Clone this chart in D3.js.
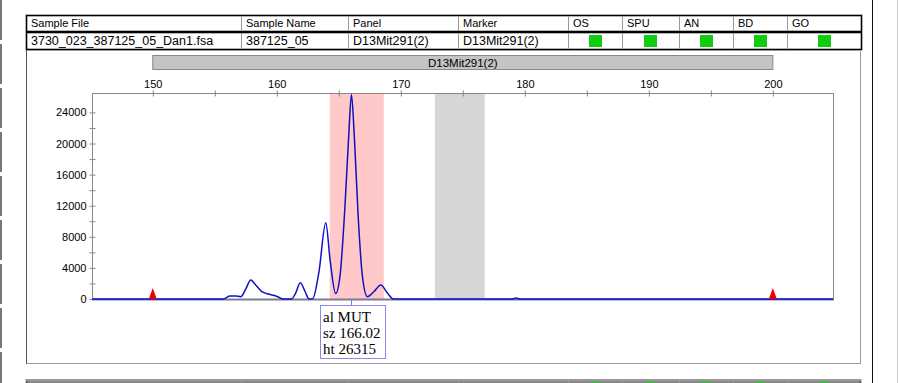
<!DOCTYPE html>
<html>
<head>
<meta charset="utf-8">
<script src="https://cdn.jsdelivr.net/npm/d3@7"></script>
<style>
  body { margin: 0; background: #fff; }
  svg { font-family: "Liberation Sans", Arial, sans-serif; }
</style>
</head>
<body>
<div id="chart"></div>
<script>
// header table
const headerCols = ['Sample File', 'Sample Name', 'Panel', 'Marker', 'OS', 'SPU', 'AN', 'BD', 'GO'];
const sampleRow = ['3730_023_387125_05_Dan1.fsa', '387125_05', 'D13Mit291(2)', 'D13Mit291(2)'];
const flagCols = ['OS', 'SPU', 'AN', 'BD', 'GO'];

// marker range (bp)
const markerName = 'D13Mit291(2)';
const markerRange = [150, 200];

// bins (bp)
const binRanges = [[164.27, 168.63], [172.75, 176.77]];
const binColors = ['#ffc9c9', '#d6d6d6'];

// size standard peaks
const sizeStd = [150, 200];

// trace: size (bp) and height (rfu)
const traceSize = [145.1, 155.7, 155.9, 156.2, 156.7, 157.1, 157.5, 157.9, 158.3, 158.8, 159.3, 159.8, 160.2, 160.5,
  161.2, 161.5, 161.9, 162.3, 162.6, 162.9, 163.4, 163.95, 164.3, 164.75, 165.1, 165.5, 165.8, 166.02,
  166.25, 166.55, 166.9, 167.3, 167.8, 168.4, 168.9, 169.4, 179.0, 179.3, 179.6, 204.85];
const traceRfu = [0, 0, 150, 400, 380, 300, 1300, 2450, 1800, 950, 650, 450, 200, 0,
  0, 700, 2100, 900, 0, 50, 3500, 9800, 5000, 700, 3000, 12000, 21000, 26315,
  21000, 11000, 3000, 300, 900, 1800, 800, 0, 0, 120, 0, 0];

// called allele
const allele = { label: 'MUT', size: 166.02, height: 26315 };

const xTicks = d3.range(150, 201, 5);
const yTicks = d3.range(0, 24001, 2000);

const width = 899;
const height = 383;

const svg = d3.select('#chart').append('svg')
  .attr('width', width)
  .attr('height', height);

// page frame lines
svg.append('line').attr('x1', 1).attr('x2', 1).attr('y1', 0).attr('y2', height)
  .attr('stroke', '#777').attr('stroke-width', 2).attr('stroke-dasharray', '40,4');
svg.append('line').attr('x1', 872.5).attr('x2', 872.5).attr('y1', 0).attr('y2', height)
  .attr('stroke', '#111');
svg.append('line').attr('x1', 897.5).attr('x2', 897.5).attr('y1', 0).attr('y2', height)
  .attr('stroke', '#ccc');

// column edges of the header table
const colX = [26, 241, 348, 458, 568, 622, 679, 733, 787, 861];
const flagX = [595, 650, 706, 760, 824];

function drawRow(y0, h, texts, fontSize, flags) {
  const g = svg.append('g');
  g.append('rect')
    .attr('x', colX[0] + 0.5).attr('y', y0 + 0.5)
    .attr('width', colX[colX.length - 1] - colX[0]).attr('height', h)
    .attr('fill', '#fff').attr('stroke', '#000').attr('stroke-width', 1.6);
  colX.slice(1, -1).forEach(cx => {
    g.append('line').attr('x1', cx + 0.5).attr('x2', cx + 0.5)
      .attr('y1', y0 + 1).attr('y2', y0 + h)
      .attr('stroke', '#999');
  });
  texts.forEach((t, i) => {
    g.append('text').attr('x', colX[i] + 5).attr('y', y0 + h - 4)
      .attr('font-size', fontSize).text(t);
  });
  if (flags) {
    flagX.forEach(fx => {
      g.append('rect').attr('x', fx - 6).attr('y', y0 + 3)
        .attr('width', 13).attr('height', h - 5).attr('fill', '#11cc11');
    });
  }
}

drawRow(15, 16, headerCols, 11, false);
drawRow(32, 17, sampleRow, 12.5, true);

// panel frame
svg.append('rect')
  .attr('x', 26.5).attr('y', 50.5).attr('width', 834).attr('height', 313)
  .attr('fill', 'none').attr('stroke', '#999');
svg.append('line').attr('x1', 26.5).attr('x2', 26.5).attr('y1', 50).attr('y2', 364)
  .attr('stroke', '#555');

// next sample row (cut off)
svg.append('rect')
  .attr('x', 26.5).attr('y', 380).attr('width', 834).attr('height', 20)
  .attr('fill', '#fff').attr('stroke', '#999').attr('stroke-width', 2);
svg.append('line').attr('x1', 26).attr('x2', 861).attr('y1', 382).attr('y2', 382)
  .attr('stroke', '#111');
colX.slice(1, -1).forEach(cx => {
  svg.append('line').attr('x1', cx + 0.5).attr('x2', cx + 0.5).attr('y1', 381).attr('y2', 383)
    .attr('stroke', '#999');
});
flagX.forEach(fx => {
  svg.append('ellipse').attr('cx', fx).attr('cy', 384).attr('rx', 7).attr('ry', 2)
    .attr('fill', '#33cc33');
});

// scales
const x = d3.scaleLinear().domain([145.1, 204.85]).range([92, 833]);
const y = d3.scaleLinear().domain([0, 26500]).range([299, 93]);

// marker bar
svg.append('rect')
  .attr('x', x(markerRange[0])).attr('y', 55.5)
  .attr('width', x(markerRange[1]) - x(markerRange[0])).attr('height', 14)
  .attr('fill', '#c4c4c4').attr('stroke', '#888');
svg.append('text')
  .attr('x', x((markerRange[0] + markerRange[1]) / 2)).attr('y', 66.5)
  .attr('text-anchor', 'middle').attr('font-size', 11.5)
  .text(markerName);

// bins
svg.selectAll('.bin')
  .data(binRanges)
  .enter()
  .append('rect')
  .attr('class', 'bin')
  .attr('x', d => x(d[0]))
  .attr('y', y.range()[1])
  .attr('width', d => x(d[1]) - x(d[0]))
  .attr('height', y.range()[0] - y.range()[1])
  .attr('fill', (d, i) => binColors[i]);

// plot frame
svg.append('line').attr('x1', 833.5).attr('x2', 833.5).attr('y1', 93).attr('y2', 299)
  .attr('stroke', '#888');
svg.append('line').attr('x1', 92).attr('x2', 834).attr('y1', 299.5).attr('y2', 299.5)
  .attr('stroke', '#7a7a9a').attr('stroke-width', 2);

// x axis on top
const xAxis = svg.append('g')
  .attr('transform', 'translate(0, 93.5)')
  .call(d3.axisTop(x)
    .tickValues(xTicks)
    .tickSize(3)
    .tickPadding(3)
    .tickFormat(d => d % 10 === 0 ? d : ''));
xAxis.select('.domain').attr('stroke', '#888').attr('d', 'M92.5,0H833.5');
xAxis.selectAll('.tick line').attr('stroke', '#888').attr('y1', 3).attr('y2', -3);
xAxis.selectAll('.tick text').attr('font-size', 11).attr('fill', '#000')
  .attr('font-family', '"Liberation Sans", Arial, sans-serif');

// y axis
const yAxis = svg.append('g')
  .attr('transform', 'translate(92.5, 0)')
  .call(d3.axisLeft(y)
    .tickValues(yTicks)
    .tickSize(3)
    .tickPadding(3)
    .tickFormat(d => d % 4000 === 0 ? d : ''));
yAxis.select('.domain').attr('stroke', '#888').attr('d', 'M0,93V299');
yAxis.selectAll('.tick line').attr('stroke', '#888').attr('x1', 3).attr('x2', -3);
yAxis.selectAll('.tick text').attr('font-size', 11).attr('fill', '#000')
  .attr('font-family', '"Liberation Sans", Arial, sans-serif');

// trace
const trace = traceSize.map((s, i) => [s, traceRfu[i]]);
const line = d3.line()
  .x(d => x(d[0]))
  .y(d => y(d[1]))
  .curve(d3.curveMonotoneX);
svg.append('path')
  .datum(trace)
  .attr('d', line)
  .attr('fill', 'none')
  .attr('stroke', '#1010c8')
  .attr('stroke-width', 1.5);

// size standard markers
svg.selectAll('.std')
  .data(sizeStd)
  .enter()
  .append('path')
  .attr('class', 'std')
  .attr('d', d => `M${x(d) - 4},299 L${x(d)},288 L${x(d) + 4},299 Z`)
  .attr('fill', '#ee0000');

// allele label
const ax = Math.round(x(allele.size)) + 0.5;
svg.append('line').attr('x1', ax).attr('x2', ax).attr('y1', 300).attr('y2', 305)
  .attr('stroke', '#7777dd');
svg.append('rect')
  .attr('x', 320.5).attr('y', 305.5).attr('width', 65).attr('height', 53)
  .attr('fill', '#fff').attr('stroke', '#8888ee');
const labelLines = ['al ' + allele.label, 'sz ' + allele.size.toFixed(2), 'ht ' + allele.height];
svg.selectAll('.al')
  .data(labelLines)
  .enter()
  .append('text')
  .attr('class', 'al')
  .attr('x', 323)
  .attr('y', (d, i) => 322 + i * 16)
  .style('font-family', '"Liberation Serif", "Times New Roman", serif')
  .attr('font-size', 15)
  .text(d => d);
</script>
</body>
</html>
